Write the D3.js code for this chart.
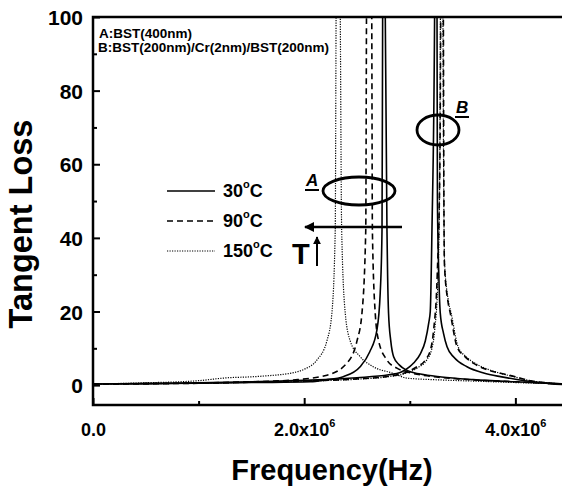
<!DOCTYPE html>
<html>
<head>
<meta charset="utf-8">
<script src="https://cdn.jsdelivr.net/npm/d3@7"></script>
<style>
  body { margin: 0; background: #fff; }
  text { font-family: "Liberation Sans", Arial, sans-serif; font-weight: bold; fill: #000; }
</style>
</head>
<body>
<div id="chart"></div>
<script>
// frequency in units of 1e6 Hz, tangent loss
var aSolid = [[0,0.3],[0.5,0.4],[1,0.5],[1.5,0.7],[2.06,0.9],[2.2,1.4],[2.37,2.3],[2.53,5],[2.62,9],[2.689,15],[2.72,25],[2.737,42],[2.743,100],[2.757,170],[2.768,100],[2.784,42],[2.79,30],[2.799,19.5],[2.82,12],[2.847,7.7],[2.9,5.5],[2.973,4],[3.1,3.0],[3.3,2.2],[3.6,1.5],[4.0,0.9],[4.47,0.3]];
var aDash  = [[0,0.3],[0.5,0.4],[1,0.6],[1.5,0.9],[1.896,1.4],[2.215,2.7],[2.405,6],[2.5,12],[2.547,19.5],[2.583,42],[2.59,100],[2.615,200],[2.64,100],[2.646,42],[2.673,19.5],[2.705,12],[2.784,6.8],[2.878,4.6],[3.0,3.4],[3.2,2.4],[3.5,1.6],[4.0,0.9],[4.47,0.3]];
var aDot   = [[0,0.3],[0.45,0.6],[1.0,1.2],[1.23,1.9],[1.583,2.4],[1.9,3.4],[2.0,4.3],[2.12,6.8],[2.215,12],[2.262,19.5],[2.294,42],[2.302,100],[2.322,200],[2.342,100],[2.355,42],[2.389,19.5],[2.436,12],[2.531,7.7],[2.654,5],[2.844,3.2],[2.973,1.9],[3.3,1.4],[3.6,1.1],[4.0,0.7],[4.47,0.3]];
var bSolid = [[0,0.3],[0.5,0.4],[1,0.6],[1.5,0.9],[2,1.3],[2.5,2.0],[2.8,2.8],[2.91,3.4],[3.0,5.0],[3.036,6],[3.1,8.5],[3.147,12],[3.18,17],[3.194,20],[3.21,42],[3.235,100],[3.247,170],[3.258,100],[3.262,50],[3.275,30],[3.289,19.5],[3.32,14],[3.353,10.4],[3.42,7.5],[3.542,5],[3.7,3.3],[3.858,2.3],[4.0,1.6],[4.17,0.9],[4.33,0.4],[4.47,0.1]];
var bDash  = [[0,0.3],[0.5,0.4],[1,0.5],[1.5,0.8],[2,1.1],[2.5,1.7],[2.8,2.4],[2.95,3.3],[3.068,5],[3.147,6.8],[3.2,10],[3.226,15],[3.26,30],[3.285,60],[3.293,100],[3.306,170],[3.318,100],[3.322,60],[3.328,33],[3.36,23],[3.384,19.5],[3.448,10.4],[3.52,7.8],[3.605,5.9],[3.72,4.3],[3.858,3.2],[4.0,2.3],[4.11,1.4],[4.3,0.6],[4.47,0.2]];
var bDot   = [[0,0.3],[0.5,0.4],[1,0.5],[1.5,0.8],[2,1.1],[2.5,1.6],[2.8,2.3],[2.95,3.1],[3.08,4.8],[3.16,6.8],[3.21,10],[3.236,15],[3.268,30],[3.284,60],[3.29,100],[3.302,170],[3.314,100],[3.32,60],[3.33,33],[3.365,23],[3.392,19.5],[3.458,10.4],[3.53,7.8],[3.62,5.9],[3.74,4.3],[3.87,3.1],[4.0,2.2],[4.12,1.3],[4.3,0.6],[4.47,0.2]];

var xMajor = [0, 2, 4], xMinor = [1, 3];
var yMajor = [0, 20, 40, 60, 80, 100], yMinor = [10, 30, 50, 70, 90];
var legendLabels = ["30", "90", "150"];

var margin = {top: 17, right: -3, bottom: 82, left: 93},
    width = 562 - margin.left - margin.right,
    height = 487 - margin.top - margin.bottom;

var x = d3.scaleLinear().domain([0, 4.47]).range([0, width]);
var y = d3.scaleLinear().domain([-5.4, 100]).range([height, 0]);

var root = d3.select("#chart").append("svg")
    .attr("width", 562)
    .attr("height", 487);

var svg = root.append("g")
    .attr("transform", "translate(" + margin.left + "," + margin.top + ")");

svg.append("clipPath").attr("id", "clip")
  .append("rect").attr("x", 0).attr("y", 0).attr("width", width).attr("height", height);

// curves
var line = d3.line()
    .x(function(d) { return x(d[0]); })
    .y(function(d) { return y(d[1]); })
    .curve(d3.curveMonotoneX);

var series = [
  {data: aSolid, dash: null, w: 1.6},
  {data: aDash, dash: "6,4", w: 1.6},
  {data: aDot, dash: "1.2,1.3", w: 1.2},
  {data: bSolid, dash: null, w: 1.6},
  {data: bDash, dash: "6,4", w: 1.6},
  {data: bDot, dash: "1.2,1.3", w: 1.2}
];

svg.append("g").attr("clip-path", "url(#clip)")
  .selectAll("path")
  .data(series)
  .enter().append("path")
    .attr("d", function(d) { return line(d.data); })
    .attr("fill", "none")
    .attr("stroke", "#000")
    .attr("stroke-width", function(d) { return d.w; })
    .attr("stroke-dasharray", function(d) { return d.dash; });

// axes (ticks point inward)
function styleAxis(g) {
  g.select(".domain").remove();
  g.selectAll(".tick line").attr("stroke", "#000").attr("stroke-width", 2);
}

svg.append("g")
    .attr("transform", "translate(0," + height + ")")
    .call(d3.axisBottom(x).tickValues(xMinor).tickSize(-4).tickFormat(""))
    .call(styleAxis);

var xAxis = svg.append("g")
    .attr("transform", "translate(0," + height + ")")
    .call(d3.axisBottom(x).tickValues(xMajor).tickSize(-7).tickFormat(""))
    .call(styleAxis);

xAxis.selectAll(".tick text").each(function(d) {
  var t = d3.select(this).attr("font-size", 18).attr("text-anchor", "middle")
      .attr("y", 31).attr("dy", null);
  if (d === 0) {
    t.text("0.0");
  } else {
    t.append("tspan").text(d.toFixed(1) + "x10");
    t.append("tspan").attr("font-size", 11).attr("dy", -9).text("6");
  }
});

svg.append("g")
    .call(d3.axisLeft(y).tickValues(yMinor).tickSize(-4).tickFormat(""))
    .call(styleAxis);

var yAxis = svg.append("g")
    .call(d3.axisLeft(y).tickValues(yMajor).tickSize(-7).tickPadding(10))
    .call(styleAxis);

yAxis.selectAll(".tick text").attr("font-size", 21).attr("dy", "0.36em");

// frame
svg.append("rect")
    .attr("width", width).attr("height", height)
    .attr("fill", "none").attr("stroke", "#000").attr("stroke-width", 2.5);

// axis titles
svg.append("text")
    .attr("x", 332 - margin.left).attr("y", height + 75)
    .attr("text-anchor", "middle").attr("font-size", 29)
    .text("Frequency(Hz)");

svg.append("text")
    .attr("transform", "translate(" + (32 - margin.left) + "," + (224 - margin.top) + ") rotate(-90)")
    .attr("text-anchor", "middle").attr("font-size", 32.5)
    .text("Tangent Loss");

// sample labels
svg.append("text").attr("x", 6).attr("y", 21).attr("font-size", 13.5).text("A:BST(400nm)");
svg.append("text").attr("x", 5).attr("y", 35).attr("font-size", 13.5).text("B:BST(200nm)/Cr(2nm)/BST(200nm)");

// legend
var legend = svg.append("g").attr("transform", "translate(" + (167 - margin.left) + "," + (191 - margin.top) + ")");
legendLabels.forEach(function(lab, i) {
  legend.append("line")
      .attr("x1", 0).attr("x2", 48).attr("y1", i * 30).attr("y2", i * 30)
      .attr("stroke", "#000")
      .attr("stroke-width", series[i].w)
      .attr("stroke-dasharray", series[i].dash);
  var t = legend.append("text").attr("x", 56).attr("y", i * 30 + 6).attr("font-size", 18);
  t.append("tspan").text(lab);
  t.append("tspan").attr("font-size", 11).attr("dy", -9).text("o");
  t.append("tspan").attr("dy", 9).text("C");
});

// annotations
function underlined(px, py, label) {
  svg.append("text").attr("x", px - margin.left).attr("y", py - margin.top)
      .attr("font-size", 17).attr("font-style", "italic").text(label);
  svg.append("line")
      .attr("x1", px - margin.left - 1).attr("x2", px - margin.left + 13)
      .attr("y1", py - margin.top + 4).attr("y2", py - margin.top + 4)
      .attr("stroke", "#000").attr("stroke-width", 2);
}
underlined(306, 186, "A");
underlined(456, 113, "B");

svg.append("ellipse")
    .attr("cx", 359 - margin.left).attr("cy", 191 - margin.top).attr("rx", 36).attr("ry", 14)
    .attr("fill", "none").attr("stroke", "#000").attr("stroke-width", 2.8);
svg.append("ellipse")
    .attr("cx", 438 - margin.left).attr("cy", 130 - margin.top).attr("rx", 21).attr("ry", 15)
    .attr("fill", "none").attr("stroke", "#000").attr("stroke-width", 2.8);

svg.append("defs").append("marker")
    .attr("id", "head").attr("viewBox", "0 0 10 10").attr("refX", 9).attr("refY", 5)
    .attr("markerWidth", 4).attr("markerHeight", 4).attr("markerUnits", "strokeWidth")
    .attr("orient", "auto")
  .append("path").attr("d", "M0,0L10,5L0,10z").attr("fill", "#000");

svg.append("line")
    .attr("x1", 402 - margin.left).attr("x2", 305 - margin.left)
    .attr("y1", 227 - margin.top).attr("y2", 227 - margin.top)
    .attr("stroke", "#000").attr("stroke-width", 2.5).attr("marker-end", "url(#head)");

svg.append("text").attr("x", 292 - margin.left).attr("y", 264 - margin.top)
    .attr("font-size", 29).text("T");
svg.append("line")
    .attr("x1", 317 - margin.left).attr("x2", 317 - margin.left)
    .attr("y1", 266 - margin.top).attr("y2", 237 - margin.top)
    .attr("stroke", "#000").attr("stroke-width", 2).attr("marker-end", "url(#head)");
</script>
</body>
</html>
